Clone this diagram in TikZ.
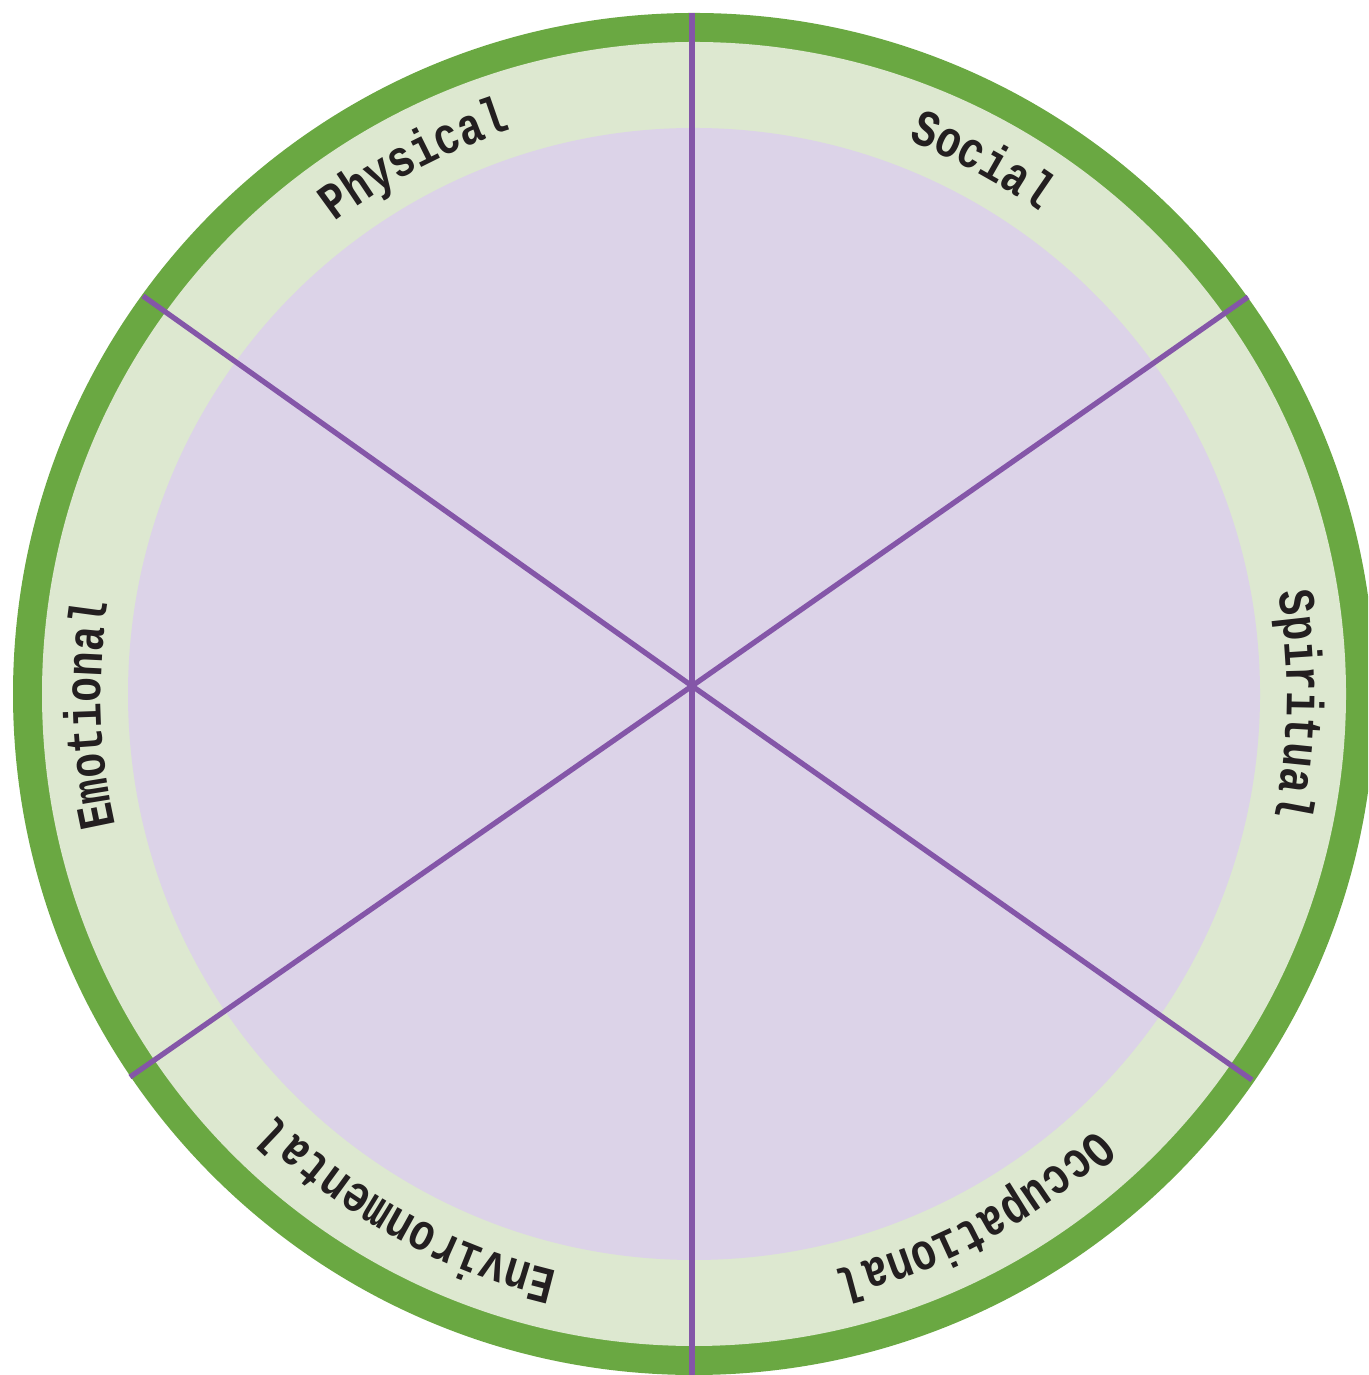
\documentclass[tikz,border=0pt]{standalone}
\usepackage{fontspec}
\usepackage{tikz}
\usetikzlibrary{decorations.text}
\usepackage{xcolor}
\newfontfamily\wheelfont[FakeStretch=0.8]{Liberation Mono}
\newcommand\wheelstyle{\wheelfont\bfseries\fontsize{14.8}{16}\selectfont\color{inkgray}}
\definecolor{rimgreen}{RGB}{106,168,66}
\definecolor{ringgreen}{RGB}{221,232,208}
\definecolor{hubpurple}{RGB}{220,211,232}
\definecolor{spokepurple}{RGB}{132,86,168}
\definecolor{inkgray}{RGB}{35,31,32}
\tikzset{
  ringtext/.style={decorate,decoration={text along path,text align=center,text={|\wheelstyle|#1}}},
  spoke/.style={spokepurple,line width=1.5pt}
}

\begin{document}
\begin{tikzpicture}
\useasboundingbox (0,0) rectangle (13.68,13.75);
\begin{scope}
\clip (0,0) rectangle (13.68,13.75);
\begin{scope}[shift={(6.94,6.81)}]
\fill[rimgreen] (0,0) circle (6.81);
\fill[ringgreen] (0,0) circle (6.52);
\fill[hubpurple] (0,0) circle (5.66);
\path[ringtext=Physical] (147.6:5.93) arc[start angle=147.6,end angle=87.6,radius=5.93];
\path[ringtext=Social] (91.6:5.93) arc[start angle=91.6,end angle=31.6,radius=5.93];
\path[ringtext=Spiritual] (29:5.93) arc[start angle=29,end angle=-31,radius=5.93];
\path[ringtext=Emotional] (212:5.93) arc[start angle=212,end angle=152,radius=5.93];
\path[ringtext=Occupational] (328.3:5.93) arc[start angle=328.3,end angle=268.3,radius=5.93];
\path[ringtext=Environmental] (271:5.93) arc[start angle=271,end angle=211,radius=5.93];
\end{scope}
\coordinate (hub) at (6.92,6.89);
\draw[spoke] (hub) -- (6.92,13.62);
\draw[spoke] (hub) -- (6.92,0);
\draw[spoke] (hub) -- (12.48,10.78);
\draw[spoke] (hub) -- (1.43,10.79);
\draw[spoke] (hub) -- (1.30,2.98);
\draw[spoke] (hub) -- (12.52,2.95);
\end{scope}
\end{tikzpicture}
\end{document}
